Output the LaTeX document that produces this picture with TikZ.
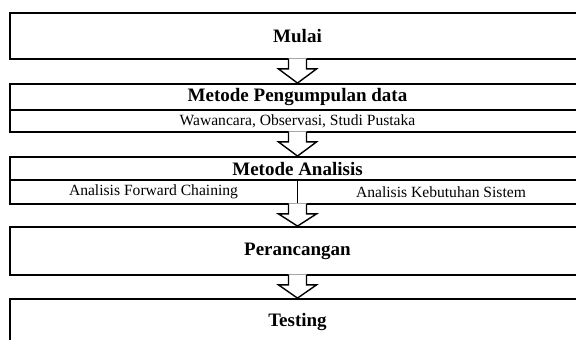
\documentclass[tikz,border=0pt]{standalone}
\usepackage{fontspec}
\setmainfont{Liberation Serif}
\usetikzlibrary{calc}

% hollow block arrow from the bottom of one box to the top of the next
\newcommand{\blockarrow}[2]{%
  \fill[white] ($(#1.south)+(-9,-1.6)$) -- ($(#1.south)+(-9,9)$) -- ($(#1.south)+(-19,9)$) -- (#2.north)
    -- ($(#1.south)+(19,9)$) -- ($(#1.south)+(9,9)$) -- ($(#1.south)+(9,-1.6)$) -- cycle;
  \draw[arr] ($(#1.south)+(-9,-0.9)$) -- ($(#1.south)+(-9,9)$) -- ($(#1.south)+(-19,9)$) -- (#2.north)
    -- ($(#1.south)+(19,9)$) -- ($(#1.south)+(9,9)$) -- ($(#1.south)+(9,-0.9)$);
}

\begin{document}
\begin{tikzpicture}[x=1pt, y=-1pt,
      box/.style={draw, line width=1.8pt, minimum width=575pt, inner sep=0pt},
      ttl/.style={font=\fontsize{19}{22}\selectfont\bfseries, inner sep=0pt},
      sub/.style={font=\fontsize{15.6}{18}\selectfont, inner sep=0pt},
      sep/.style={line width=1.1pt},
      arr/.style={line width=1.4pt}]
    \useasboundingbox (0,0) rectangle (576,340);
    \clip (0,0) rectangle (576,340);
    \node[box, minimum height=46pt] (mul) at (297.5,36)  {};
    \node[box, minimum height=48pt] (pkd) at (297.5,108) {};
    \node[box, minimum height=47pt] (ana) at (297.5,180.5) {};
    \node[box, minimum height=48pt] (prc) at (297.5,251) {};
    \node[box, minimum height=62pt] (tst) at (297.5,330) {};
    \draw[sep] (10,110) -- (585,110);
    \draw[sep] (10,180) -- (585,180);
    \draw[sep] (297.5,180) -- (ana.south);
    \node[ttl] (mult) at (297.5,36)  {Mulai};
    \node[ttl] (pkdt) at (297.5,97)  {Metode Pengumpulan data};
    \node[sub] (pkds) at (297.5,121) {Wawancara, Observasi, Studi Pustaka};
    \node[ttl] (anat) at (297.5,168.5) {Metode Analisis};
    \node[sub] (anal) at (153.5,192) {Analisis Forward Chaining};
    \node[sub] (anar) at (441,192)   {Analisis Kebutuhan Sistem};
    \node[ttl] (prct) at (297.5,251) {Perancangan};
    \node[ttl] (tstt) at (297.5,322) {Testing};
    \blockarrow{mul}{pkd}
    \blockarrow{pkd}{ana}
    \blockarrow{ana}{prc}
    \blockarrow{prc}{tst}
\end{tikzpicture}
\end{document}
